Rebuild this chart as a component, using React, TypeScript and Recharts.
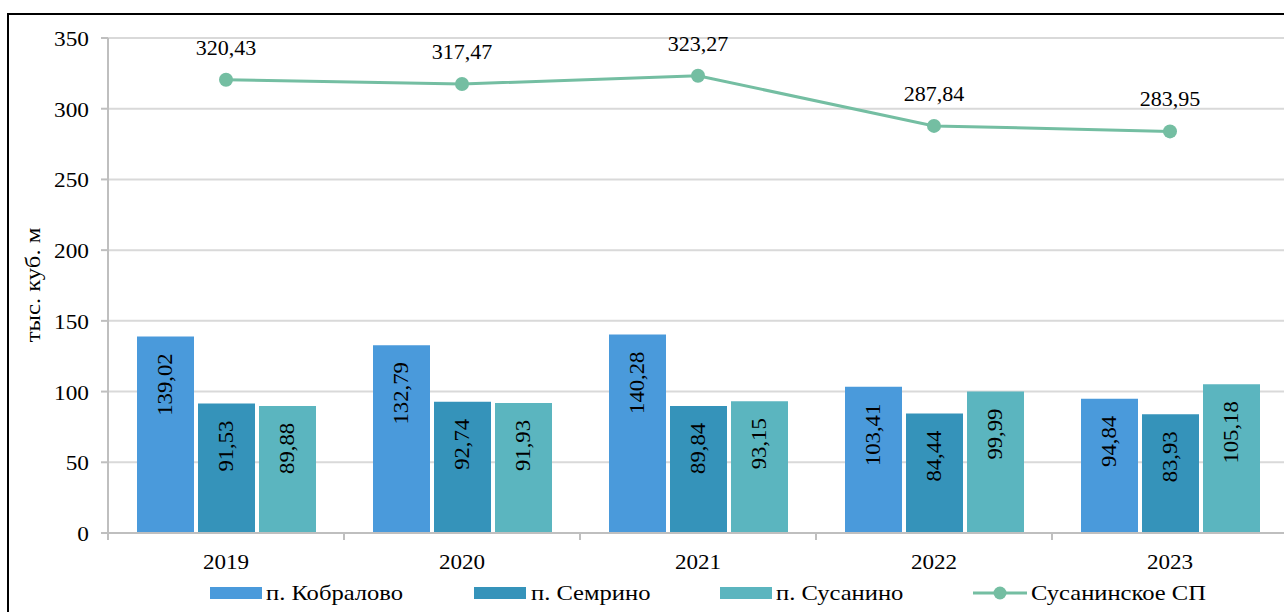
import React from 'react';
import {
  ComposedChart,
  Bar,
  Line,
  XAxis,
  YAxis,
  CartesianGrid,
  LabelList,
  Legend,
} from 'recharts';

const years = ['2019', '2020', '2021', '2022', '2023'];
const kobralovo = [139.02, 132.79, 140.28, 103.41, 94.84];
const semrino = [91.53, 92.74, 89.84, 84.44, 83.93];
const susanino = [89.88, 91.93, 93.15, 99.99, 105.18];
const susaninskoe = [320.43, 317.47, 323.27, 287.84, 283.95];
const yTicks = [0, 50, 100, 150, 200, 250, 300, 350];

const FONT = '"Liberation Serif", "Times New Roman", serif';
const C1 = '#4a9adb';
const C2 = '#3593ba';
const C3 = '#5bb5bf';
const CL = '#74bea2';
const AXIS = '#bfbfbf';

const W = 1290;
const H = 612;
const Y_W = 108;
const BAND = (W - Y_W - 2) / years.length;

const data = years.map((y, i) => ({
  year: y,
  kob: kobralovo[i],
  sem: semrino[i],
  sus: susanino[i],
  sp: susaninskoe[i],
}));

const fmt = (v: number) => v.toFixed(2).replace('.', ',');

// text drawn at (x, y), optionally rotated, and a bit wider like the original font
function SText({ x, y, sx = 1, rot = 0, anchor = 'middle', size = 21, baseline, children }: any) {
  return (
    <text
      transform={`translate(${x} ${y}) rotate(${rot}) scale(${sx} 1)`}
      x={0}
      y={0}
      textAnchor={anchor}
      dominantBaseline={baseline}
      fontSize={size}
      fontFamily={FONT}
      fill="#000"
    >
      {children}
    </text>
  );
}

function BarValue(props: any) {
  const { x, y, width, value } = props;
  return (
    <SText x={x + width / 2} y={y + 17} rot={-90} sx={1.08} anchor="end" baseline="central">
      {fmt(value)}
    </SText>
  );
}

function LineValue(props: any) {
  const { x, y, value } = props;
  return (
    <SText x={x} y={y - 25} sx={1.05}>
      {fmt(value)}
    </SText>
  );
}

function XTick(props: any) {
  const { x, y, payload, index } = props;
  const last = index === years.length - 1;
  return (
    <g>
      <line x1={x - BAND / 2} y1={y} x2={x - BAND / 2} y2={y + 7} stroke={AXIS} strokeWidth={2} />
      {last && <line x1={x + BAND / 2} y1={y} x2={x + BAND / 2} y2={y + 7} stroke={AXIS} strokeWidth={2} />}
      <SText x={x} y={y + 36} sx={1.1}>
        {payload.value}
      </SText>
    </g>
  );
}

function YTick(props: any) {
  const { x, y, payload } = props;
  return (
    <SText x={x} y={y + 8} sx={1.11} anchor="end">
      {payload.value}
    </SText>
  );
}

const legendItems = [
  { name: 'п. Кобралово', color: C1, x: 210, tx: 266, kind: 'rect' },
  { name: 'п. Семрино', color: C2, x: 474, tx: 531, kind: 'rect' },
  { name: 'п. Сусанино', color: C3, x: 720, tx: 776, kind: 'rect' },
  { name: 'Сусанинское СП', color: CL, x: 973, tx: 1031, kind: 'line' },
];

function LegendContent() {
  return (
    <div style={{ position: 'relative', width: W, height: 40, fontFamily: FONT, fontSize: 21 }}>
      {legendItems.map((it) => (
        <React.Fragment key={it.name}>
          {it.kind === 'rect' ? (
            <div style={{ position: 'absolute', left: it.x, top: 15, width: 52, height: 12, background: it.color }} />
          ) : (
            <svg style={{ position: 'absolute', left: it.x, top: 9, overflow: 'visible' }} width={54} height={24}>
              <line x1={0} y1={12} x2={54} y2={12} stroke={it.color} strokeWidth={3} />
              <circle cx={27} cy={12} r={6.5} fill={it.color} />
            </svg>
          )}
          <div
            style={{
              position: 'absolute',
              left: it.tx,
              top: 8,
              lineHeight: '26px',
              color: '#000',
              whiteSpace: 'nowrap',
              transform: 'scaleX(1.17)',
              transformOrigin: 'left center',
            }}
          >
            {it.name}
          </div>
        </React.Fragment>
      ))}
    </div>
  );
}

export default function App() {
  return (
    <div style={{ position: 'absolute', left: 0, top: 0, width: 1284, height: 612, overflow: 'hidden', background: '#fff' }}>
      <div
        style={{
          position: 'absolute',
          left: 7,
          top: 13,
          width: 1300,
          height: 700,
          borderTop: '2px solid #000',
          borderLeft: '2px solid #000',
        }}
      />
      <div style={{ position: 'absolute', left: 0, top: 0 }}>
        <ComposedChart
          width={W}
          height={H}
          data={data}
          margin={{ top: 38, right: 2, left: 0, bottom: 0 }}
          barCategoryGap={29}
          barGap={4}
        >
          <CartesianGrid vertical={false} stroke="#d9d9d9" strokeWidth={2} />
          <XAxis
            dataKey="year"
            axisLine={{ stroke: AXIS, strokeWidth: 2 }}
            tickLine={false}
            tickSize={0}
            tickMargin={0}
            height={39}
            tick={<XTick />}
            interval={0}
          />
          <YAxis
            width={Y_W}
            domain={[0, 350]}
            ticks={yTicks}
            axisLine={{ stroke: AXIS, strokeWidth: 2 }}
            tickLine={{ stroke: AXIS, strokeWidth: 2 }}
            tickSize={7}
            tickMargin={12}
            tick={<YTick />}
            label={{
              content: () => (
                <SText x={32} y={285} rot={-90} sx={1.12} size={22} baseline="central">
                  тыс. куб. м
                </SText>
              ),
            }}
          />
          <Legend
            verticalAlign="bottom"
            height={40}
            content={<LegendContent />}
            wrapperStyle={{ left: 0, width: W, height: 40 }}
          />
          <Bar dataKey="kob" name="п. Кобралово" fill={C1} isAnimationActive={false}>
            <LabelList dataKey="kob" content={<BarValue />} />
          </Bar>
          <Bar dataKey="sem" name="п. Семрино" fill={C2} isAnimationActive={false}>
            <LabelList dataKey="sem" content={<BarValue />} />
          </Bar>
          <Bar dataKey="sus" name="п. Сусанино" fill={C3} isAnimationActive={false}>
            <LabelList dataKey="sus" content={<BarValue />} />
          </Bar>
          <Line
            dataKey="sp"
            name="Сусанинское СП"
            stroke={CL}
            strokeWidth={3}
            dot={{ r: 7, fill: CL, stroke: CL, strokeWidth: 0 }}
            isAnimationActive={false}
          >
            <LabelList dataKey="sp" content={<LineValue />} />
          </Line>
        </ComposedChart>
      </div>
    </div>
  );
}
